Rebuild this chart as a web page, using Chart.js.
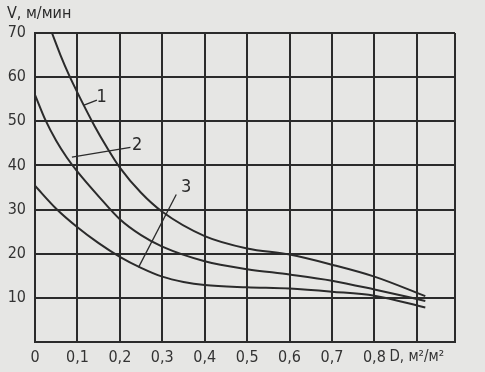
<!DOCTYPE html>
<html>
<head>
<meta charset="utf-8">
<script src="https://cdn.jsdelivr.net/npm/chart.js@4"></script>
<style>
  html, body { margin: 0; padding: 0; background: #e6e6e4; }
  canvas { display: block; }
</style>
</head>
<body>
<canvas id="chart" width="485" height="372"></canvas>
<script>
// values (D in m²/m², V in m/min)
const curve1D = [0.04, 0.06, 0.08, 0.1, 0.14, 0.17, 0.2, 0.25, 0.3, 0.4, 0.5, 0.6, 0.7, 0.8, 0.92];
const curve1V = [70, 65, 60.5, 56.5, 49, 44, 39.5, 33.8, 29.5, 24, 21.2, 19.8, 17.5, 14.8, 10.4];
const curve2D = [0, 0.025, 0.05, 0.075, 0.1, 0.15, 0.2, 0.25, 0.3, 0.4, 0.5, 0.6, 0.7, 0.8, 0.92];
const curve2V = [56, 50.2, 45.6, 41.8, 38.6, 33, 27.8, 24.2, 21.6, 18.3, 16.5, 15.3, 13.9, 11.9, 9.3];
const curve3D = [0, 0.05, 0.1, 0.15, 0.2, 0.25, 0.3, 0.35, 0.4, 0.5, 0.6, 0.7, 0.8, 0.92];
const curve3V = [35.4, 30.2, 26, 22.4, 19.3, 16.8, 14.8, 13.6, 12.9, 12.4, 12.1, 11.4, 10.5, 7.8];

// leader lines for the curve numbers: [D, V] at both ends, and where the number sits
const curveNames = ["1", "2", "3"];
const leaderFrom = [[0.114, 53.6], [0.087, 41.9], [0.244, 16.9]];
const leaderTo = [[0.146, 54.8], [0.225, 44.1], [0.333, 33.4]];
const namePos = [[0.157, 55.4], [0.241, 44.6], [0.356, 35.0]];

const xTicks = [0, 0.1, 0.2, 0.3, 0.4, 0.5, 0.6, 0.7, 0.8, 0.9];
const xMax = 0.99;
const yTicks = [0, 10, 20, 30, 40, 50, 60, 70];
const xTitle = "D, м²/м²";
const yTitle = "V, м/мин";

const ink = "#2b2b2b";
const font = '"Liberation Sans Narrow", "DejaVu Sans Condensed", "Liberation Sans", sans-serif';

function pts(xs, ys) {
  return xs.map((x, i) => ({ x, y: ys[i] }));
}

const datasets = [
  pts(curve1D, curve1V),
  pts(curve2D, curve2V),
  pts(curve3D, curve3V),
].map((data) => ({
  data,
  borderColor: ink,
  borderWidth: 2,
  pointRadius: 0,
  cubicInterpolationMode: "monotone",
}));

leaderFrom.forEach((a, i) => {
  datasets.push({
    data: [{ x: a[0], y: a[1] }, { x: leaderTo[i][0], y: leaderTo[i][1] }],
    borderColor: ink,
    borderWidth: 1.3,
    pointRadius: 0,
  });
});

const extras = {
  id: "extras",
  afterDatasetsDraw(chart) {
    const { ctx, scales } = chart;
    ctx.save();
    ctx.fillStyle = ink;
    ctx.font = "18px " + font;
    ctx.textAlign = "center";
    ctx.textBaseline = "middle";
    namePos.forEach((p, i) => {
      ctx.fillText(curveNames[i], scales.x.getPixelForValue(p[0]), scales.y.getPixelForValue(p[1]));
    });

    ctx.font = "16px " + font;
    ctx.textAlign = "left";
    ctx.fillText(yTitle, 7, 14);
    ctx.restore();
  },
};

new Chart(document.getElementById("chart"), {
  type: "line",
  data: { datasets },
  options: {
    responsive: false,
    animation: false,
    layout: { padding: { left: 0, top: 33, right: 30, bottom: 0 } },
    plugins: { legend: { display: false }, tooltip: { enabled: false } },
    scales: {
      x: {
        type: "linear",
        min: 0,
        max: xMax,
        afterFit: (s) => { s.height = 30; },
        afterBuildTicks: (s) => { s.ticks = xTicks.concat([xMax]).map((value) => ({ value })); },
        border: { color: ink, width: 2 },
        grid: { color: ink, lineWidth: 2, drawTicks: false },
        ticks: {
          autoSkip: false,
          maxRotation: 0,
          padding: 6,
          color: "#333",
          font: (c) => ({ family: font, size: c.tick && c.tick.value === 0.9 ? 15 : 16 }),
          callback: (v) => {
            if (v === xMax) return "";
            if (v === 0) return "0";
            if (v === 0.9) return xTitle;
            return v.toFixed(1).replace(".", ",");
          },
        },
      },
      y: {
        min: 0,
        max: 70,
        afterFit: (s) => { s.width = 35; },
        afterBuildTicks: (s) => { s.ticks = yTicks.map((value) => ({ value })); },
        border: { color: ink, width: 2 },
        grid: { color: ink, lineWidth: 2, drawTicks: false },
        ticks: {
          padding: 9,
          color: "#333",
          font: { family: font, size: 16 },
          callback: (v) => (v === 0 ? "" : String(v)),
        },
      },
    },
  },
  plugins: [extras],
});
</script>
</body>
</html>
